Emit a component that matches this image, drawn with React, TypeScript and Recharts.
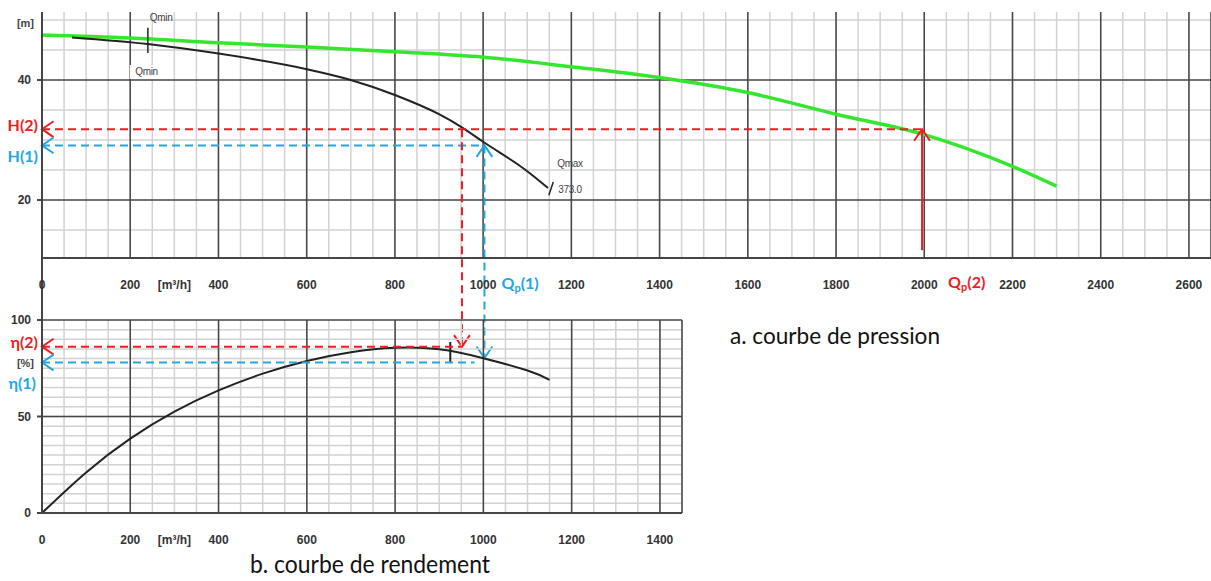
import React from 'react';
import { LineChart, Line, XAxis, YAxis, CartesianGrid, ReferenceLine, ReferenceDot } from 'recharts';

// ---------------- data ----------------
// pump pressure curve (black)
const pumpQ = [68, 240, 400, 600, 700, 800, 900, 950, 1000, 1100, 1147];
const pumpH = [47.1, 46.0, 44.4, 41.8, 40.0, 37.5, 34.3, 32.2, 29.7, 24.8, 22.0];
// network (pressure) curve (green)
const systemQ = [0, 200, 400, 600, 800, 1000, 1200, 1400, 1600, 1800, 2000, 2200, 2300];
const systemH = [47.5, 47.0, 46.2, 45.5, 44.7, 43.8, 42.2, 40.4, 37.9, 34.3, 30.9, 25.6, 22.3];
// efficiency curve
const effQ = [0, 100, 200, 300, 400, 500, 600, 700, 800, 900, 1000, 1100, 1150];
const effE = [0, 21.0, 38.5, 52.5, 63.5, 72.2, 78.8, 83.3, 85.6, 84.8, 80.2, 73.8, 69.0];

// ticks
const UNIT_TICK = 300;
const UNIT_LABEL = '[m³/h]';
const topXTicks = [0, 200, UNIT_TICK, 400, 600, 800, 1000, 1200, 1400, 1600, 1800, 2000, 2200, 2400, 2600];
const botXTicks = [0, 200, UNIT_TICK, 400, 600, 800, 1000, 1200, 1400];
const M_TICK = 49.5;
const PCT_TICK = 77.7;
const topYTicks = [20, 40, M_TICK];
const botYTicks = [0, 50, 100, PCT_TICK];
const topMajorX = [200, 400, 600, 800, 1000, 1200, 1400, 1600, 1800, 2000, 2200, 2400, 2600, 2650];
const topMajorY = [20, 40];
const botMajorX = [200, 400, 600, 800, 1000, 1200, 1400, 1450];
const botMajorY = [50, 100];
const topMinorX = Array.from({ length: 53 }, (_, i) => (i + 1) * 50);
const topMinorY = [15, 25, 30, 35, 45, 50];
const botMinorX = Array.from({ length: 29 }, (_, i) => (i + 1) * 50);
const botMinorY = Array.from({ length: 19 }, (_, i) => (i + 1) * 5);

// operating points
const H2 = 31.8;
const H1 = 29.1;
const ETA2 = 86.2;
const ETA1 = 78.0;
const ETA_AT_QP1 = 80.3;
const Q_RED = 952;
const QP1 = 1003;
const QP2 = 1995;
const ETA1_END = 980;
const Q_MIN = 240;
const Q_MIN_RANGE = [44.5, 48.7];
const Q_MAX_MARK = [{ x: 1149, y: 20.8 }, { x: 1159, y: 23.0 }];
const ETA_MARK_Q = 925;
const ETA_MARK_RANGE = [77.7, 88.6];

// ---------------- layout ----------------
const W = 1211;
const HGT = 581;
const AXIS_W = 42;
const AXIS_H = 40;
const TOP_PLOT_TOP = 12;
const TOP_PLOT_BOTTOM = 258;
const TOP_DOMAIN = [10.33, 51.33];
const TOP_X_DOMAIN = [0, 2650];
const BOT_PLOT_TOP = 320;
const BOT_PLOT_BOTTOM = 513;
const BOT_PLOT_RIGHT = 682;
const BOT_X_DOMAIN = [0, 1450];

const etaPx = (e: number) => BOT_PLOT_BOTTOM - (e / 100) * (BOT_PLOT_BOTTOM - BOT_PLOT_TOP);
const pxToTop = (px: number) =>
  TOP_DOMAIN[1] - ((px - TOP_PLOT_TOP) * (TOP_DOMAIN[1] - TOP_DOMAIN[0])) / (TOP_PLOT_BOTTOM - TOP_PLOT_TOP);
const etaToTop = (e: number) => pxToTop(etaPx(e));

const RED = '#ee1d23';
const BLUE = '#22a7e0';
const GREEN = '#35e62e';
const DARK = '#454545';
const LIGHT = '#d2d2d2';
const TICK_FONT = '"Liberation Sans", Arial, sans-serif';
const LABEL_FONT = 'Lato, "Open Sans", sans-serif';

const pumpData = pumpQ.map((q, i) => ({ q, v: pumpH[i] }));
const systemData = systemQ.map((q, i) => ({ q, v: systemH[i] }));
const effData = effQ.map((q, i) => ({ q, v: effE[i] }));

// ---------------- helpers ----------------
const arrowHead = (tx: number, ty: number, fx: number, fy: number, color: string) => {
  const ang = Math.atan2(ty - fy, tx - fx);
  const L = 14;
  const a = 0.6;
  const p1 = `${tx - L * Math.cos(ang - a)},${ty - L * Math.sin(ang - a)}`;
  const p2 = `${tx - L * Math.cos(ang + a)},${ty - L * Math.sin(ang + a)}`;
  return <polyline points={`${p1} ${tx},${ty} ${p2}`} fill="none" stroke={color} strokeWidth={2} />;
};

const arrowShape =
  (color: string, dash: string | undefined, start: boolean, end: boolean, sw = 2) =>
  (p: any) => {
    const { x1, y1, x2, y2 } = p;
    return (
      <g>
        <line x1={x1} y1={y1} x2={x2} y2={y2} stroke={color} strokeWidth={sw} strokeDasharray={dash} />
        {start ? arrowHead(x1, y1, x2, y2, color) : null}
        {end ? arrowHead(x2, y2, x1, y1, color) : null}
      </g>
    );
  };

const note = (render: (cx: number, cy: number) => React.ReactElement) => (p: any) => render(p.cx, p.cy);

const XTick = (props: any) => {
  const { x, y, payload } = props;
  const label = payload.value === UNIT_TICK ? UNIT_LABEL : String(payload.value);
  return (
    <text x={x} y={y + 27} textAnchor="middle" dominantBaseline="central" fontFamily={TICK_FONT}
      fontWeight="bold" fontSize={12} fill="#333">
      {label}
    </text>
  );
};

const YTick = (props: any) => {
  const { x, y, payload } = props;
  const v = payload.value;
  if (v === M_TICK || v === PCT_TICK) {
    return (
      <text x={x - 8} y={y} textAnchor="end" dominantBaseline="central" fontFamily={TICK_FONT}
        fontWeight="bold" fontSize={11} fill="#444">
        {v === M_TICK ? '[m]' : '[%]'}
      </text>
    );
  }
  return (
    <g>
      <line x1={x - 5} y1={y} x2={x} y2={y} stroke={DARK} strokeWidth={2} />
      <text x={x - 11} y={y} textAnchor="end" dominantBaseline="central" fontFamily={TICK_FONT}
        fontWeight="bold" fontSize={12} fill="#333">
        {String(v)}
      </text>
    </g>
  );
};

const colorLabel = (txt: string, color: string, dx: number, dy: number) =>
  note((cx, cy) => (
    <text x={cx + dx} y={cy + dy} textAnchor="end" dominantBaseline="central" fontFamily={LABEL_FONT}
      fontWeight="bold" fontSize={16} fill={color}>
      {txt}
    </text>
  ));

const qpLabel = (num: string, color: string, dx: number, dy: number) =>
  note((cx, cy) => (
    <text x={cx + dx} y={cy + dy} dominantBaseline="central" fontFamily={LABEL_FONT} fontWeight="bold"
      fontSize={16} fill={color}>
      Q<tspan fontSize={11} dy={5}>p</tspan>
      <tspan dy={-5}>{`(${num})`}</tspan>
    </text>
  ));

const smallText = (txt: string, dx: number, dy: number, anchor: string, bg = false) =>
  note((cx, cy) => (
    <g>
      {bg ? <rect x={cx + dx - 28} y={cy + dy - 7} width={28} height={14} fill="#fff" /> : null}
      <text x={cx + dx} y={cy + dy} textAnchor={anchor as any} dominantBaseline="central" fontFamily={TICK_FONT}
        fontSize={10} fill="#444" letterSpacing={-0.3}>
        {txt}
      </text>
    </g>
  ));

const abs: React.CSSProperties = { position: 'absolute', left: 0, top: 0 };

export default function App() {
  return (
    <div style={{ position: 'absolute', left: 0, top: 0, width: W, height: HGT, background: '#fff', overflow: 'hidden' }}>
      {/* ---------- a. pressure chart ---------- */}
      <div style={abs}>
        <LineChart width={W} height={HGT}
          margin={{ top: TOP_PLOT_TOP, right: 0, bottom: HGT - TOP_PLOT_BOTTOM - AXIS_H, left: 0 }}>
          <CartesianGrid horizontalValues={topMinorY} verticalValues={topMinorX} stroke={LIGHT} strokeWidth={1.5} />
          <XAxis type="number" dataKey="q" domain={TOP_X_DOMAIN} allowDataOverflow ticks={topXTicks} interval={0}
            tick={(p: any) => <XTick {...p} />} tickLine={false} tickSize={0} tickMargin={0} height={AXIS_H}
            axisLine={{ stroke: DARK, strokeWidth: 2 }} />
          <YAxis type="number" domain={TOP_DOMAIN} allowDataOverflow ticks={topYTicks} interval={0}
            tick={(p: any) => <YTick {...p} />} tickLine={false} tickSize={0} tickMargin={0} width={AXIS_W}
            axisLine={{ stroke: DARK, strokeWidth: 2 }} />
          {topMajorX.map((v) => (
            <ReferenceLine key={'tx' + v} x={v} stroke={DARK} strokeWidth={1.5} ifOverflow="visible" />
          ))}
          {topMajorY.map((v) => (
            <ReferenceLine key={'ty' + v} y={v} stroke={DARK} strokeWidth={1.5} />
          ))}
          {/* axis connector down to the efficiency chart */}
          <ReferenceLine segment={[{ x: 0, y: TOP_DOMAIN[0] }, { x: 0, y: etaToTop(100) }]} stroke={DARK}
            strokeWidth={2} ifOverflow="visible" />

          <Line data={systemData} dataKey="v" type="monotone" stroke={GREEN} strokeWidth={3.5} dot={false}
            isAnimationActive={false} />
          <Line data={pumpData} dataKey="v" type="monotone" stroke="#222" strokeWidth={2} dot={false}
            isAnimationActive={false} />

          {/* Qmin / Qmax marks */}
          <ReferenceLine segment={[{ x: Q_MIN, y: Q_MIN_RANGE[0] }, { x: Q_MIN, y: Q_MIN_RANGE[1] }]} stroke="#222"
            strokeWidth={1.5} ifOverflow="visible" />
          <ReferenceLine segment={Q_MAX_MARK} stroke="#222" strokeWidth={1.5} ifOverflow="visible" />
          <ReferenceDot x={Q_MIN} y={Q_MIN_RANGE[1]} r={0} ifOverflow="visible" shape={smallText('Qmin', 2, -10, 'start')} />
          <ReferenceDot x={Q_MIN} y={Q_MIN_RANGE[0]} r={0} ifOverflow="visible" shape={smallText('Qmin', 10, 19, 'end', true)} />
          <ReferenceDot x={Q_MAX_MARK[1].x} y={Q_MAX_MARK[1].y} r={0} ifOverflow="visible" shape={smallText('Qmax', 4, -18, 'start')} />
          <ReferenceDot x={Q_MAX_MARK[1].x} y={Q_MAX_MARK[1].y} r={0} ifOverflow="visible" shape={smallText('373.0', 5, 8, 'start')} />

          {/* operating point lines */}
          <ReferenceLine segment={[{ x: 0, y: H2 }, { x: QP2, y: H2 }]} ifOverflow="visible"
            shape={arrowShape(RED, '8 5', true, false)} />
          <ReferenceLine segment={[{ x: 0, y: H1 }, { x: QP1, y: H1 }]} ifOverflow="visible"
            shape={arrowShape(BLUE, '8 5', true, false)} />
          <ReferenceLine segment={[{ x: QP2, y: TOP_DOMAIN[0] + 1.3 }, { x: QP2, y: H2 }]} ifOverflow="visible"
            shape={arrowShape(RED, undefined, false, true)} />
          <ReferenceLine segment={[{ x: Q_RED, y: H2 }, { x: Q_RED, y: etaToTop(ETA2) }]} ifOverflow="visible"
            shape={arrowShape(RED, '8 5', false, true)} />
          <ReferenceLine segment={[{ x: QP1, y: H1 }, { x: QP1, y: etaToTop(ETA_AT_QP1) }]} ifOverflow="visible"
            shape={arrowShape(BLUE, '8 5', true, true)} />

          <ReferenceDot x={0} y={H2} r={0} ifOverflow="visible" shape={colorLabel('H(2)', RED, -4, -5)} />
          <ReferenceDot x={0} y={H1} r={0} ifOverflow="visible" shape={colorLabel('H(1)', BLUE, -4, 10)} />
          <ReferenceDot x={QP1} y={TOP_DOMAIN[0]} r={0} ifOverflow="visible" shape={qpLabel('1', BLUE, 17, 24)} />
          <ReferenceDot x={QP2} y={TOP_DOMAIN[0]} r={0} ifOverflow="visible" shape={qpLabel('2', RED, 26, 23)} />
        </LineChart>
      </div>

      {/* ---------- b. efficiency chart ---------- */}
      <div style={abs}>
        <LineChart width={W} height={HGT}
          margin={{ top: BOT_PLOT_TOP, right: W - BOT_PLOT_RIGHT, bottom: HGT - BOT_PLOT_BOTTOM - AXIS_H, left: 0 }}>
          <CartesianGrid horizontalValues={botMinorY} verticalValues={botMinorX} stroke={LIGHT} strokeWidth={1.5} />
          <XAxis type="number" dataKey="q" domain={BOT_X_DOMAIN} allowDataOverflow ticks={botXTicks} interval={0}
            tick={(p: any) => <XTick {...p} />} tickLine={false} tickSize={0} tickMargin={0} height={AXIS_H}
            axisLine={{ stroke: DARK, strokeWidth: 2 }} />
          <YAxis type="number" domain={[0, 100]} allowDataOverflow ticks={botYTicks} interval={0}
            tick={(p: any) => <YTick {...p} />} tickLine={false} tickSize={0} tickMargin={0} width={AXIS_W}
            axisLine={{ stroke: DARK, strokeWidth: 2 }} />
          {botMajorX.map((v) => (
            <ReferenceLine key={'bx' + v} x={v} stroke={DARK} strokeWidth={1.5} ifOverflow="visible" />
          ))}
          {botMajorY.map((v) => (
            <ReferenceLine key={'by' + v} y={v} stroke={DARK} strokeWidth={1.5} ifOverflow="visible" />
          ))}
          <Line data={effData} dataKey="v" type="natural" stroke="#222" strokeWidth={2} dot={false}
            isAnimationActive={false} />
          <ReferenceLine segment={[{ x: ETA_MARK_Q, y: ETA_MARK_RANGE[0] }, { x: ETA_MARK_Q, y: ETA_MARK_RANGE[1] }]}
            stroke="#222" strokeWidth={2} ifOverflow="visible" />
          <ReferenceLine segment={[{ x: 0, y: ETA2 }, { x: Q_RED, y: ETA2 }]} ifOverflow="visible"
            shape={arrowShape(RED, '8 5', true, false)} />
          <ReferenceLine segment={[{ x: 0, y: ETA1 }, { x: ETA1_END, y: ETA1 }]} ifOverflow="visible"
            shape={arrowShape(BLUE, '8 5', true, false)} />
          <ReferenceDot x={0} y={ETA2} r={0} ifOverflow="visible" shape={colorLabel('η(2)', RED, -4, -5)} />
          <ReferenceDot x={0} y={ETA1} r={0} ifOverflow="visible" shape={colorLabel('η(1)', BLUE, -6, 20)} />
        </LineChart>
      </div>

      {/* ---------- captions ---------- */}
      <svg width={W} height={HGT} style={{ ...abs, pointerEvents: 'none' }}>
        <text x={730} y={344} fontFamily={LABEL_FONT} fontSize={24} fill="#111" textLength={210}
          lengthAdjust="spacingAndGlyphs">
          a. courbe de pression
        </text>
        <text x={250} y={573} fontFamily={LABEL_FONT} fontSize={25} fill="#111" textLength={240}
          lengthAdjust="spacingAndGlyphs">
          b. courbe de rendement
        </text>
      </svg>
    </div>
  );
}
